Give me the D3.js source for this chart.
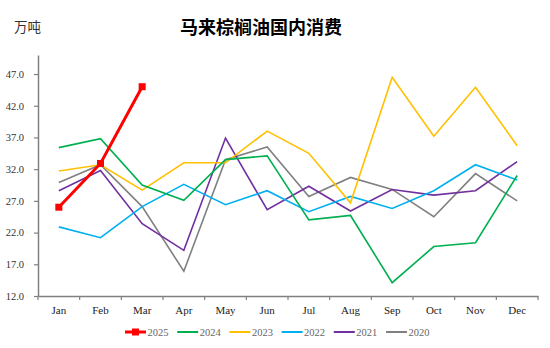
<!DOCTYPE html>
<html><head><meta charset="utf-8">
<script src="https://cdn.jsdelivr.net/npm/d3@7"></script>
<style>body{margin:0;background:#fff}svg{display:block}</style>
</head><body><svg id="c" width="550" height="348"></svg>
<script>
const months = ["Jan","Feb","Mar","Apr","May","Jun","Jul","Aug","Sep","Oct","Nov","Dec"];
const yTicks = [12,17,22,27,32,37,42,47];
const seriesNames = ["2025","2024","2023","2022","2021","2020"];
const seriesColors = ["#FF0000","#00B050","#FFC000","#00B0F0","#7030A0","#808080"];
const v2025 = [26.0, 32.9, 45.0];
const v2024 = [35.4, 36.8, 29.5, 27.1, 33.5, 34.1, 24.0, 24.7, 14.1, 19.8, 20.4, 31.0];
const v2023 = [31.7, 32.7, 28.7, 33.0, 33.0, 38.0, 34.5, 26.7, 46.5, 37.2, 44.9, 35.7];
const v2022 = [22.9, 21.2, 26.1, 29.6, 26.4, 28.6, 25.3, 27.7, 25.8, 28.6, 32.7, 30.3];
const v2021 = [28.6, 31.8, 23.4, 19.2, 36.9, 25.6, 29.3, 25.4, 28.8, 27.9, 28.6, 33.2];
const v2020 = [29.9, 32.7, 26.1, 15.9, 33.5, 35.5, 27.7, 30.7, 28.8, 24.5, 31.3, 27.0];
const allValues = [v2025, v2024, v2023, v2022, v2021, v2020];

(function () {
const svg = d3.select("#c");
const serif = "'Liberation Serif','Times New Roman','Noto Sans CJK SC',serif";
const pL = 38, pR = 538, pT = 55, pB = 296;

const x = d3.scaleBand().domain(months).range([pL, pR]);
const y = d3.scaleLinear().domain([12, 50]).range([pB, pT]);

// title
svg.append("text").attr("x", 261).attr("y", 34).attr("text-anchor", "middle")
  .attr("font-family", "'Noto Sans CJK SC',serif").attr("font-weight", "bold")
  .attr("font-size", 18).attr("fill", "#000").text("马来棕榈油国内消费");
svg.append("text").attr("x", 14).attr("y", 32)
  .attr("font-family", "'Noto Sans CJK SC',serif")
  .attr("font-size", 13.5).attr("fill", "#333").text("万吨");

// y axis
const yAxis = svg.append("g").attr("transform", `translate(${pL},0)`)
  .call(d3.axisLeft(y).tickValues(yTicks).tickFormat(d3.format(".1f")).tickSize(4).tickPadding(10).tickSizeOuter(0));
yAxis.select(".domain").attr("stroke", "#808080").attr("stroke-width", 1.5);
yAxis.selectAll(".tick line").attr("stroke", "#808080").attr("stroke-width", 1.2);
yAxis.selectAll("text").attr("font-family", serif).attr("font-size", 10.5).attr("fill", "#333");

// x axis
const xAxis = svg.append("g").attr("transform", `translate(0,${pB})`)
  .call(d3.axisBottom(x).tickSize(0).tickPadding(10));
xAxis.select(".domain").attr("stroke", "#808080").attr("stroke-width", 1.5);
xAxis.selectAll("text").attr("font-family", serif).attr("font-size", 11).attr("fill", "#222");
const bounds = months.map(m => x(m)).concat([pR]);
xAxis.selectAll(".bt").data(bounds).enter().append("line")
  .attr("x1", d => d).attr("x2", d => d).attr("y1", 0).attr("y2", 4)
  .attr("stroke", "#808080").attr("stroke-width", 1.2);

const line = d3.line().x((d, i) => x(months[i]) + x.bandwidth() / 2).y(d => y(d));

for (let s = seriesNames.length - 1; s >= 0; s--) {
  svg.append("path").datum(allValues[s]).attr("d", line).attr("fill", "none")
    .attr("stroke", seriesColors[s]).attr("stroke-width", s === 0 ? 3 : 1.6)
    .attr("stroke-linejoin", "miter");
}
svg.selectAll(".m25").data(v2025).enter().append("rect")
  .attr("x", (d, i) => x(months[i]) + x.bandwidth() / 2 - 3.5)
  .attr("y", d => y(d) - 3.5).attr("width", 7).attr("height", 7)
  .attr("fill", seriesColors[0]);

// legend
const lg = svg.append("g");
seriesNames.forEach((n, i) => {
  const lx = 125 + i * 52.2, ly = 332;
  lg.append("line").attr("x1", lx).attr("x2", lx + 21).attr("y1", ly).attr("y2", ly)
    .attr("stroke", seriesColors[i]).attr("stroke-width", i === 0 ? 3 : 2);
  if (i === 0) lg.append("rect").attr("x", lx + 7).attr("y", ly - 3.5).attr("width", 7).attr("height", 7).attr("fill", seriesColors[0]);
  lg.append("text").attr("x", lx + 22.5).attr("y", ly + 3.5)
    .attr("font-family", serif).attr("font-size", 10.5).attr("fill", "#666").text(n);
});
})();
</script></body></html>
